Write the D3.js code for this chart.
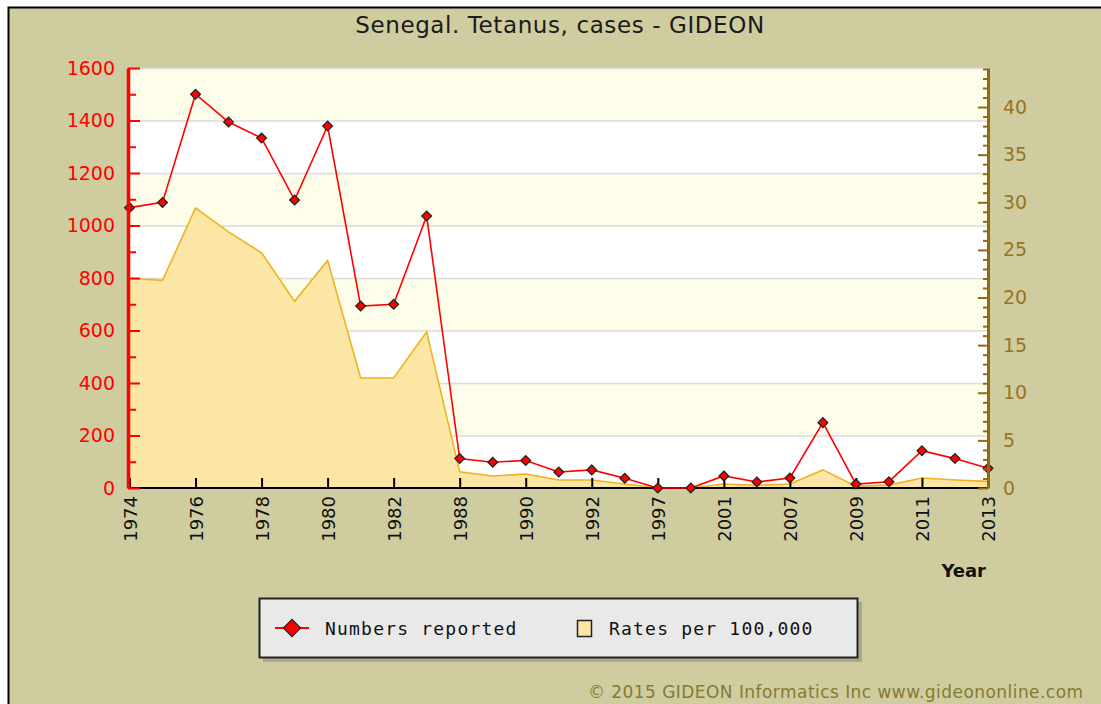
<!DOCTYPE html>
<html>
<head>
<meta charset="utf-8">
<script src="https://cdn.jsdelivr.net/npm/d3@7/dist/d3.min.js"></script>
<style>
  html, body { margin: 0; padding: 0; background: #ffffff; }
  svg { display: block; }
</style>
</head>
<body>
<svg id="chart" width="1101" height="704"></svg>
<script>
// Senegal tetanus: yearly reported cases and rate per 100,000
const years = ["1974","1975","1976","1977","1978","1979","1980","1981","1982","1983",
               "1988","1989","1990","1991","1992","1995","1997","1999","2001","2005",
               "2007","2008","2009","2010","2011","2012","2013"];
const cases = [1068, 1088, 1500, 1394, 1333, 1097, 1379, 693, 700, 1036,
               112, 98, 105, 61, 69, 37, 0, 0, 46, 23,
               38, 249, 15, 24, 142, 112, 75];
const rates = [22.0, 21.8, 29.4, 26.9, 24.7, 19.6, 23.9, 11.55, 11.55, 16.4,
               1.7, 1.26, 1.47, 0.84, 0.84, 0.42, 0, 0, 0.42, 0.28,
               0.42, 1.9, 0.2, 0.3, 1.05, 0.84, 0.7];
const shownYears = ["1974","1976","1978","1980","1982","1988","1990","1992","1997",
                    "2001","2007","2009","2011","2013"];
const leftTicks = [0, 200, 400, 600, 800, 1000, 1200, 1400, 1600];
const rightTicks = [0, 5, 10, 15, 20, 25, 30, 35, 40];

const svg = d3.select("#chart");
const W = 1101, H = 704;
const plot = { left: 129, right: 988, top: 68, bottom: 488 };

const bg = "#cfcda0";
const red = "#ff0000";
const brown = "#8f6a10";
const sans = "DejaVu Sans, Verdana, sans-serif";

// panel background with its black frame
svg.append("rect").attr("x", 8).attr("y", 7).attr("width", W).attr("height", H).attr("fill", bg);
svg.append("path").attr("d", `M8.5,${H} V7.5 H${W}`).attr("fill", "none")
  .attr("stroke", "#000").attr("stroke-width", 2);

// title
svg.append("text").attr("x", 560).attr("y", 33).attr("text-anchor", "middle")
  .attr("font-family", sans).attr("font-size", 23).attr("letter-spacing", 0.6)
  .attr("fill", "#1a1a1a").text("Senegal. Tetanus, cases - GIDEON");

// scales
const x = d3.scalePoint().domain(years).range([plot.left + 0.5, plot.right]);
const yL = d3.scaleLinear().domain([0, 1600]).range([plot.bottom, plot.top]);
const yR = d3.scaleLinear().domain([0, 44.1]).range([plot.bottom, plot.top]);

// alternating background bands
const bands = d3.pairs(leftTicks);
svg.append("g").selectAll("rect").data(bands).join("rect")
  .attr("x", plot.left).attr("width", plot.right - plot.left)
  .attr("y", d => yL(d[1])).attr("height", d => yL(d[0]) - yL(d[1]))
  .attr("fill", (d, i) => i % 2 === 0 ? "#ffffff" : "#fdfdea");

// horizontal grid
svg.append("g").selectAll("line").data(leftTicks.slice(1)).join("line")
  .attr("x1", plot.left).attr("x2", plot.right)
  .attr("y1", d => yL(d) + 0.5).attr("y2", d => yL(d) + 0.5)
  .attr("stroke", "#dcdcdc").attr("stroke-width", 1.5);

// rate area (right axis)
const area = d3.area().x((d, i) => x(years[i])).y0(plot.bottom).y1(d => yR(d));
svg.append("path").datum(rates).attr("d", area).attr("fill", "#fbe6a5");
const rateLine = d3.line().x((d, i) => x(years[i])).y(d => yR(d));
svg.append("path").datum(rates).attr("d", rateLine).attr("fill", "none")
  .attr("stroke", "#f0b21e").attr("stroke-width", 1.6);

// x axis
const xAxis = d3.axisBottom(x).tickValues(shownYears).tickSizeInner(-10).tickSizeOuter(0).tickFormat("");
const gx = svg.append("g").attr("transform", `translate(0,${plot.bottom})`).call(xAxis);
gx.select(".domain").attr("stroke", "#000").attr("stroke-width", 2)
  .attr("d", `M${plot.left},0H${plot.right}`);
gx.selectAll(".tick line").attr("stroke", "#000").attr("stroke-width", 2);

svg.append("g").selectAll("text").data(shownYears).join("text")
  .attr("transform", d => `translate(${x(d) + 1},${plot.bottom + 8}) rotate(-90)`)
  .attr("text-anchor", "end").attr("dy", "0.36em")
  .attr("font-family", sans).attr("font-size", 18)
  .attr("fill", "#111").text(d => d);

svg.append("text").attr("x", 986).attr("y", 577).attr("text-anchor", "end")
  .attr("font-family", sans).attr("font-size", 18)
  .attr("font-weight", "bold").attr("fill", "#111").text("Year");

// cases line with diamond markers (left axis)
const caseLine = d3.line().x((d, i) => x(years[i])).y(d => yL(d));
svg.append("path").datum(cases).attr("d", caseLine).attr("fill", "none")
  .attr("stroke", red).attr("stroke-width", 1.6);
const diamond = d3.symbol().type(d3.symbolDiamond2).size(60);
svg.append("g").selectAll("path").data(cases).join("path")
  .attr("transform", (d, i) => `translate(${x(years[i])},${yL(d)})`)
  .attr("d", diamond).attr("fill", red).attr("stroke", "#222").attr("stroke-width", 1.3);

// left axis (red) with minor ticks
const minorL = d3.range(100, 1600, 200);
const gLm = svg.append("g").attr("transform", `translate(${plot.left - 1},0)`)
  .call(d3.axisLeft(yL).tickValues(minorL).tickSizeInner(-8).tickSizeOuter(0).tickFormat(""));
gLm.select(".domain").remove();
gLm.selectAll(".tick line").attr("stroke", red).attr("stroke-width", 2);
const gL = svg.append("g").attr("transform", `translate(${plot.left - 1},0)`)
  .call(d3.axisLeft(yL).tickValues(leftTicks).tickFormat(d3.format("d"))
    .tickSizeInner(-12).tickSizeOuter(0).tickPadding(13));
gL.select(".domain").attr("stroke", red).attr("stroke-width", 3.5);
gL.selectAll(".tick line").attr("stroke", red).attr("stroke-width", 2);
gL.selectAll(".tick text").attr("fill", red)
  .attr("font-family", sans).attr("font-size", 19);

// right axis (brown) with minor ticks
const minorR = d3.range(0, 45, 1).filter(v => v % 5 !== 0 && v <= 44);
const gRm = svg.append("g").attr("transform", `translate(${plot.right},0)`)
  .call(d3.axisRight(yR).tickValues(minorR).tickSizeInner(-5).tickSizeOuter(0).tickFormat(""));
gRm.select(".domain").remove();
gRm.selectAll(".tick line").attr("stroke", brown).attr("stroke-width", 2);
const gR = svg.append("g").attr("transform", `translate(${plot.right},0)`)
  .call(d3.axisRight(yR).tickValues(rightTicks).tickSizeInner(-10).tickSizeOuter(0).tickPadding(15));
gR.select(".domain").attr("stroke", brown).attr("stroke-width", 3);
gR.selectAll(".tick line").attr("stroke", brown).attr("stroke-width", 2);
gR.selectAll(".tick text").attr("fill", "#9a7420")
  .attr("font-family", sans).attr("font-size", 19);

// legend
const lg = svg.append("g");
lg.append("rect").attr("x", 263).attr("y", 602).attr("width", 599).attr("height", 60).attr("fill", "#a9a88a");
lg.append("rect").attr("x", 259.5).attr("y", 598.5).attr("width", 598).attr("height", 59)
  .attr("fill", "#e9e9e9").attr("stroke", "#222").attr("stroke-width", 2);
lg.append("line").attr("x1", 275).attr("x2", 309).attr("y1", 628).attr("y2", 628)
  .attr("stroke", red).attr("stroke-width", 2);
lg.append("path").attr("transform", "translate(292,628)")
  .attr("d", d3.symbol().type(d3.symbolDiamond2).size(190)).attr("fill", red)
  .attr("stroke", "#222").attr("stroke-width", 1.2);
lg.append("text").attr("x", 325).attr("y", 635)
  .attr("font-family", "DejaVu Sans Mono, Liberation Mono, monospace").attr("font-size", 18)
  .attr("letter-spacing", 1.2).attr("fill", "#111").text("Numbers reported");
lg.append("rect").attr("x", 577.5).attr("y", 620.5).attr("width", 14).attr("height", 16)
  .attr("fill", "#fbe6a5").attr("stroke", "#222").attr("stroke-width", 1.5);
lg.append("text").attr("x", 609).attr("y", 635)
  .attr("font-family", "DejaVu Sans Mono, Liberation Mono, monospace").attr("font-size", 18)
  .attr("letter-spacing", 1.2).attr("fill", "#111").text("Rates per 100,000");

// copyright
svg.append("text").attr("x", 588).attr("y", 698)
  .attr("font-family", sans).attr("font-size", 17).attr("letter-spacing", 0.45)
  .attr("fill", "#857a30").text("© 2015 GIDEON Informatics Inc www.gideononline.com");
</script>
</body>
</html>
